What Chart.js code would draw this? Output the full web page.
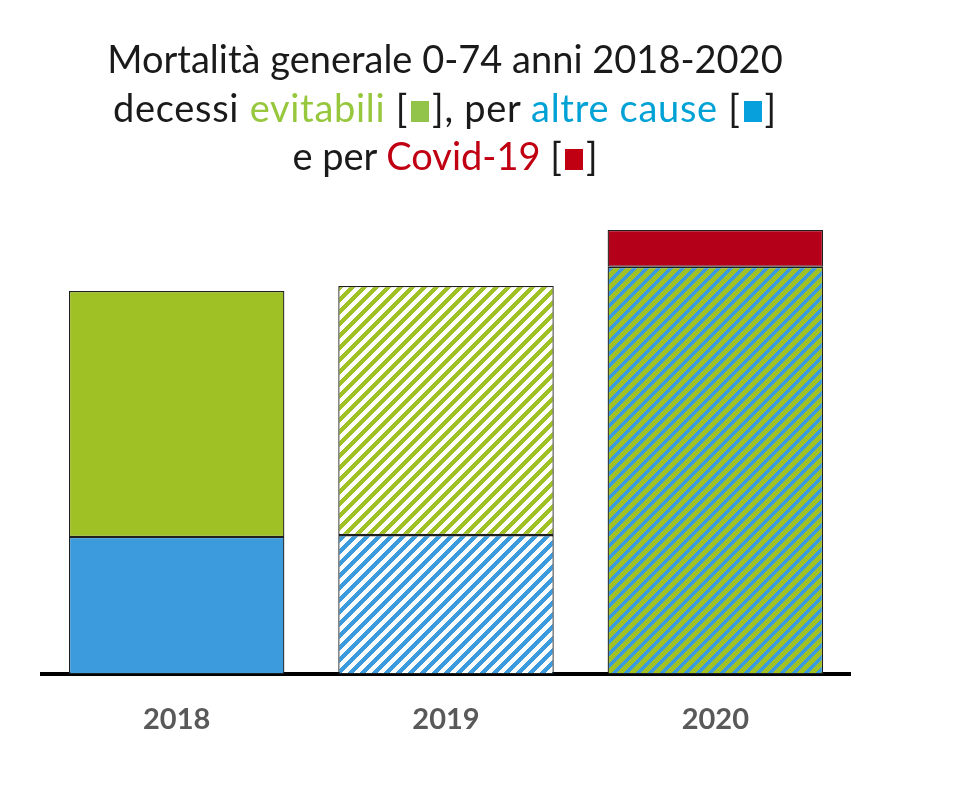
<!DOCTYPE html>
<html>
<head>
<meta charset="utf-8">
<script src="https://cdn.jsdelivr.net/npm/chart.js@4.4.0/dist/chart.umd.min.js"></script>
<style>
  body { margin: 0; background: #fff; }
  #wrap { position: relative; width: 955px; height: 789px; }
  #chart { position: absolute; left: 0; top: 0; }
  #title {
    position: absolute; left: 0; top: 34px; width: 890px;
    text-align: center; font-family: Lato, sans-serif; font-size: 38px;
    line-height: 48.5px; color: #1a1a1a;
  }
  #title .l2 { letter-spacing: 0.7px; }
  .sq { display: inline-block; width: 18px; height: 21px; margin: 0 3px; }
</style>
</head>
<body>
<div id="wrap">
  <canvas id="chart" width="955" height="789"></canvas>
  <div id="title">
    Mortalità generale 0-74 anni 2018-2020<br>
    <span class="l2">decessi <span style="color:#97c73d">evitabili</span> [<span class="sq" style="background:#92c44a"></span>], per <span style="color:#00a2d6">altre cause</span> [<span class="sq" style="background:#08a0dc"></span>]</span><br>
    e per <span style="color:#c00012">Covid-19</span> [<span class="sq" style="background:#c00012"></span>]
  </div>
</div>
<script>
// values as index, 2018 total = 100
const years = ["2018", "2019", "2020"];
const altreCause = [35.8, 36.3, null];
const evitabili = [64.2, 65.0, null];
const evitabiliAltre = [null, null, 106.3];
const covid = [null, null, 9.6];

const green = "#a0c125";
const blue = "#3b9bdd";
const red = "#b5001a";

// diagonal "/" stripes, built pixel by pixel so the tile repeats cleanly
function makeStripes(bg, fg, w) {
  const s = 12;
  const c = document.createElement("canvas");
  c.width = s;
  c.height = s;
  const g = c.getContext("2d");
  g.fillStyle = bg;
  g.fillRect(0, 0, s, s);
  g.fillStyle = fg;
  for (let y = 0; y < s; y++) {
    for (let x = 0; x < s; x++) {
      if ((x + y) % s < w) g.fillRect(x, y, 1, 1);
    }
  }
  return g.createPattern(c, "repeat");
}

const ctx = document.getElementById("chart").getContext("2d");
const greenHatch = makeStripes("#ffffff", green, 6);
const blueHatch = makeStripes("#ffffff", blue, 6);
const mixHatch = makeStripes(green, blue, 5);

new Chart(ctx, {
  type: "bar",
  data: {
    labels: years,
    datasets: [
      { label: "Altre cause", data: altreCause, backgroundColor: [blue, blueHatch, blue] },
      { label: "Evitabili", data: evitabili, backgroundColor: [green, greenHatch, green] },
      { label: "Evitabili e altre cause", data: evitabiliAltre, backgroundColor: mixHatch },
      { label: "Covid-19", data: covid, backgroundColor: red },
    ].map((d) => Object.assign(d, {
      borderColor: "#1f1f1f",
      borderWidth: 1.3,
      borderSkipped: false,
      barPercentage: 0.8,
      categoryPercentage: 1,
    })),
  },
  options: {
    responsive: false,
    animation: false,
    layout: { padding: { left: 42, right: 105, top: 199, bottom: 24 } },
    plugins: {
      legend: { display: false },
      tooltip: { enabled: false },
      title: { display: false },
    },
    scales: {
      x: {
        stacked: true,
        z: 1,
        grid: { display: false, drawTicks: false },
        border: { display: true, color: "#000", width: 4 },
        ticks: {
          padding: 28,
          color: "#595959",
          font: { family: "Lato", size: 29, weight: "bold" },
        },
      },
      y: {
        stacked: true,
        display: false,
        min: 0,
        max: 124,
      },
    },
  },
});
</script>
</body>
</html>
